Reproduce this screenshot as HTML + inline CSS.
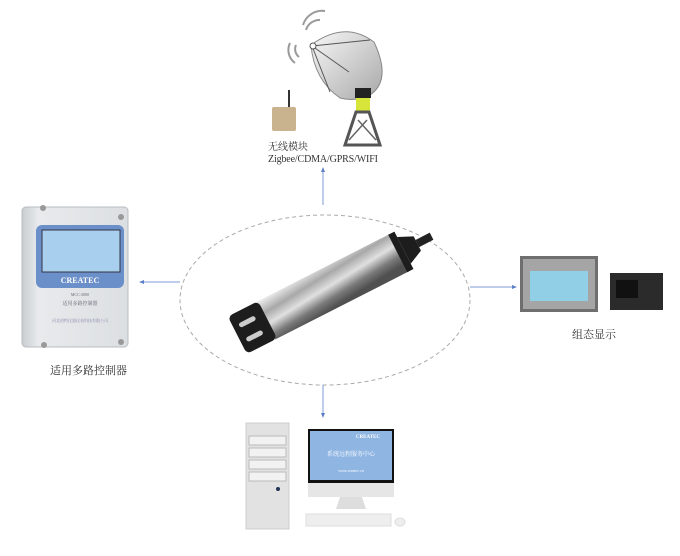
<!DOCTYPE html>
<html><head><meta charset="utf-8"><style>
html,body{margin:0;padding:0;background:#fff;}
svg{display:block;}
text{font-family:"Liberation Serif","Noto Serif CJK SC",serif;}
</style></head><body>
<svg width="680" height="556" viewBox="0 0 680 556" xmlns="http://www.w3.org/2000/svg">
<defs>
<linearGradient id="steel" x1="0" y1="0" x2="0.3" y2="1">
<stop offset="0" stop-color="#f0f0f0"/><stop offset="0.3" stop-color="#a8a8a8"/><stop offset="0.55" stop-color="#e0e0e0"/><stop offset="0.8" stop-color="#7a7a7a"/><stop offset="1" stop-color="#505050"/></linearGradient>
<linearGradient id="dish" x1="0" y1="0" x2="1" y2="1"><stop offset="0" stop-color="#f8f8f8"/><stop offset="1" stop-color="#a8a8a8"/></linearGradient>
<linearGradient id="box" x1="0" y1="0" x2="1" y2="0"><stop offset="0" stop-color="#c8ccd0"/><stop offset="0.15" stop-color="#e8eaec"/><stop offset="1" stop-color="#dcdfe2"/></linearGradient>
</defs>
<ellipse cx="325" cy="300" rx="145" ry="85" fill="none" stroke="#aaa" stroke-width="1" stroke-dasharray="4,3"/>
<g stroke="#7d9bd3" stroke-width="1" fill="#5c7fc8">
<line x1="323" y1="170" x2="323" y2="205"/><path d="M323,167 l-2,5 h4z" stroke="none"/>
<line x1="142" y1="282" x2="180" y2="282"/><path d="M139,282 l5,-2 v4z" stroke="none"/>
<line x1="470" y1="287" x2="513" y2="287"/><path d="M517,287 l-5,-2 v4z" stroke="none"/>
<line x1="323" y1="385" x2="323" y2="414"/><path d="M323,418 l-2,-5 h4z" stroke="none"/>
</g>
<g transform="translate(330,288) rotate(-27)">
<rect x="-72" y="-21" width="150" height="42" fill="url(#steel)"/>
<rect x="-104" y="-21" width="34" height="42" rx="5" fill="#1d1d1d"/>
<rect x="-98" y="-10" width="18" height="5" rx="2.5" fill="#ccc"/>
<rect x="-98" y="6" width="18" height="5" rx="2.5" fill="#ccc"/>
<rect x="76" y="-21" width="7" height="42" fill="#1d1d1d"/>
<path d="M83,-15 L98,-8 L98,8 L83,15z" fill="#1d1d1d"/>
<rect x="98" y="-4" width="16" height="8" fill="#222"/>
</g>
<rect x="22" y="207" width="106" height="140" rx="4" fill="url(#box)" stroke="#b8bcc0"/>
<rect x="36" y="225" width="88" height="63" rx="6" fill="#6b8fc8"/>
<rect x="42" y="230" width="78" height="42" fill="#a8d0ee" stroke="#334" stroke-width="1"/>
<text x="80" y="283" font-size="8" fill="#fff" text-anchor="middle" font-weight="bold" font-family="Liberation Sans,sans-serif">CREATEC</text>
<text x="80" y="296" font-size="4" fill="#667" text-anchor="middle">MCC-2000</text>
<text x="80" y="305" font-size="5" fill="#667" text-anchor="middle">适用多路控制器</text>
<text x="80" y="322" font-size="4" fill="#88a" text-anchor="middle">河北创特仪器仪表科技有限公司</text>
<circle cx="43" cy="208" r="3" fill="#999"/><circle cx="121" cy="217" r="3" fill="#999"/>
<circle cx="44" cy="345" r="3" fill="#999"/><circle cx="121" cy="342" r="3" fill="#999"/>
<text x="50" y="374" font-size="11" fill="#333">适用多路控制器</text>
<rect x="520" y="256" width="78" height="56" fill="#6f6f6f"/>
<rect x="523" y="259" width="72" height="50" fill="#a5a5a5"/>
<rect x="530" y="271" width="58" height="30" fill="#90cfe6"/>
<rect x="610" y="273" width="53" height="37" fill="#2b2b2b"/>
<rect x="616" y="280" width="22" height="18" fill="#111"/>
<text x="572" y="338" font-size="11" fill="#333">组态显示</text>
<g fill="none" stroke="#999" stroke-width="2">
<path d="M306,30 a14,14 0 0 1 14,-10"/><path d="M303,25 a20,20 0 0 1 22,-14"/>
<path d="M296,45 a10,10 0 0 0 3,12"/><path d="M290,43 a16,16 0 0 0 5,20"/>
</g>
<path d="M311,45 Q345,20 374,42 Q392,80 370,95 Q355,102 340,98 Q314,80 311,45z" fill="url(#dish)" stroke="#888"/>
<line x1="312" y1="46" x2="349" y2="72" stroke="#555"/>
<line x1="312" y1="46" x2="370" y2="40" stroke="#555"/>
<line x1="312" y1="46" x2="330" y2="92" stroke="#555"/>
<circle cx="313" cy="46" r="3" fill="#fff" stroke="#555"/>
<rect x="355" y="88" width="16" height="10" fill="#222"/>
<rect x="356" y="98" width="14" height="14" fill="#d7e43a"/>
<path d="M356,112 L369,112 L380,145 L345,145z" fill="none" stroke="#555" stroke-width="3"/>
<path d="M358,120 L376,140 M367,120 L349,140" stroke="#666" stroke-width="1.5"/>
<rect x="272" y="107" width="24" height="24" rx="2" fill="#c9b28e"/>
<line x1="289" y1="107" x2="289" y2="90" stroke="#333" stroke-width="2"/>
<text x="268" y="150" font-size="10" fill="#333">无线模块</text>
<text x="268" y="162" font-size="10" fill="#333" font-family="Liberation Mono,monospace" textLength="110">Zigbee/CDMA/GPRS/WIFI</text>
<rect x="246" y="423" width="43" height="106" fill="#e2e2e2" stroke="#ccc"/>
<rect x="249" y="436" width="37" height="9" fill="#f2f2f2" stroke="#bbb"/>
<rect x="249" y="448" width="37" height="9" fill="#f2f2f2" stroke="#bbb"/>
<rect x="249" y="460" width="37" height="9" fill="#f2f2f2" stroke="#bbb"/>
<rect x="249" y="472" width="37" height="9" fill="#f2f2f2" stroke="#bbb"/>
<circle cx="278" cy="489" r="2" fill="#235"/>
<rect x="308" y="429" width="86" height="54" fill="#111"/>
<rect x="310" y="431" width="82" height="49" fill="#8fb5e3"/>
<text x="380" y="438" font-size="5" fill="#fff" text-anchor="end" font-weight="bold" font-family="Liberation Sans,sans-serif">CREATEC</text>
<text x="351" y="456" font-size="6" fill="#fff" text-anchor="middle">系统远程服务中心</text>
<text x="351" y="472" font-size="4" fill="#fff" text-anchor="middle">www.createc.cn</text>
<rect x="308" y="483" width="86" height="14" fill="#e6e6e6"/>
<path d="M340,497 h22 l4,12 h-30z" fill="#ddd"/>
<rect x="306" y="514" width="85" height="12" fill="#eee" stroke="#ddd"/>
<ellipse cx="400" cy="522" rx="5" ry="4" fill="#eee" stroke="#ddd"/>
</svg>
</body></html>
